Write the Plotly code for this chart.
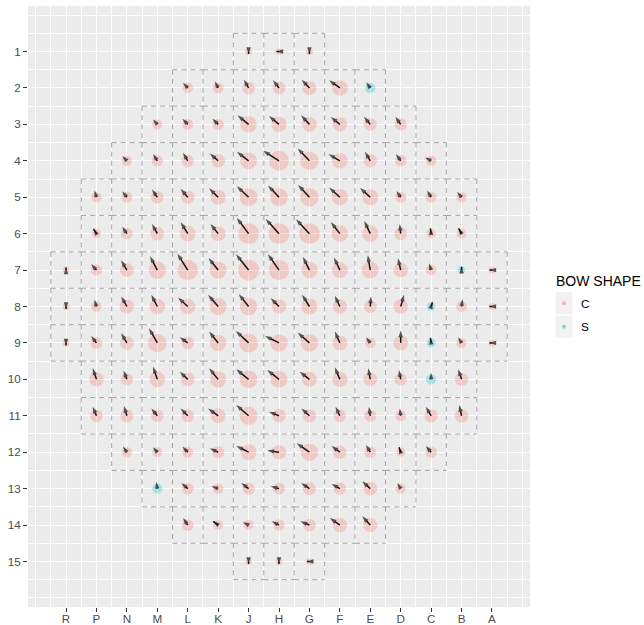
import math
import plotly.graph_objects as go

# ---------------- data ----------------
columns = ["R", "P", "N", "M", "L", "K", "J", "H", "G", "F", "E", "D", "C", "B", "A"]
rows = list(range(1, 16))
# first occupied column of each core row (rows 1..15)
row_first_col = ["J", "L", "M", "N", "P", "P", "R", "R", "R", "P", "P", "N", "M", "L", "J"]

# bow components per assembly (x: toward A positive, y: toward row 15 positive)
bow_x = [
    [0, -2.5, 0],
    [-4.7, -3.3, -4.7, -6.0, -7.7, -10.7, -4.0],
    [-4.3, -5.3, -5.7, -11.0, -10.0, -8.3, -9.0, -6.3, -5.3],
    [-4.7, -4.3, -4.7, -8.3, -11.7, -15.7, -11.7, -11.3, -5.3, -4.7, -6.0],
    [-2.0, -4.7, -5.3, -7.0, -9.0, -11.7, -11.0, -11.3, -10.7, -10.3, -4.3, -4.0, -4.3],
    [-3.0, -4.7, -5.3, -7.0, -7.7, -11.7, -13.3, -13.3, -9.0, -6.0, -1.0, -0.7, -3.0],
    [0, -5.3, -5.7, -7.3, -10.3, -9.5, -12.5, -11.0, -6.5, -5.8, -2.5, -2.7, -2.0, 0, -2.5],
    [0, -2.0, -5.7, -6.0, -9.7, -10.0, -9.7, -8.3, -7.3, -5.0, 0.7, 3.3, 1.3, 1.0, -2.5],
    [0, -5.3, -5.7, -8.3, -8.0, -9.0, -12.7, -14.0, -11.7, -5.0, -4.3, 0, -0.7, -3.3, -2.5],
    [-3.7, -3.3, -4.3, -8.0, -9.0, -12.3, -11.7, -9.7, -5.0, -2.0, -1.7, 0, -3.3],
    [-3.7, -3.0, -6.0, -7.0, -10.0, -12.3, -10.0, -8.0, -4.3, -1.3, -1.0, -5.3, -2.3],
    [-4.0, -4.3, -5.3, -8.3, -12.3, -11.7, -12.7, -8.3, -4.3, -1.7, -5.3],
    [-1.0, -6.3, -6.7, -7.3, -8.3, -8.3, -8.3, -8.0, -3.3],
    [-4.7, -5.0, -5.7, -7.3, -9.0, -10.0, -8.0],
    [0, 0, -2.5],
]
bow_y = [
    [2.5, 0, 2.5],
    [-5.3, -6.7, -8.3, -7.7, -8.3, -7.7, -5.7],
    [-5.0, -5.7, -5.7, -9.0, -8.3, -9.0, -7.3, -7.7, -7.7],
    [-4.7, -6.7, -8.0, -7.3, -9.0, -10.0, -12.3, -6.7, -9.0, -6.7, -3.3],
    [-6.7, -6.0, -7.7, -8.3, -9.0, -11.0, -11.7, -12.3, -9.7, -9.3, -6.3, -6.7, -5.3],
    [-4.7, -7.0, -9.7, -11.3, -9.7, -15.7, -14.7, -14.3, -11.7, -12.7, -9.7, -5.3, -5.3],
    [-2.5, -6.0, -9.7, -13.7, -16.3, -12.0, -15.8, -15.8, -13.0, -12.5, -14.7, -11.7, -6.7, -3.3, 0],
    [2.5, -6.7, -10.0, -11.7, -9.0, -11.7, -12.3, -8.3, -11.7, -10.7, -10.0, -11.7, -4.3, -7.3, 0],
    [2.5, -7.0, -9.7, -14.7, -5.7, -11.3, -12.0, -7.0, -10.3, -11.3, -5.7, -12.3, -5.0, -5.7, 0],
    [-11.0, -8.7, -12.7, -7.7, -11.0, -10.0, -9.3, -7.7, -12.0, -11.0, -9.3, -6.7, -10.0],
    [-9.0, -9.7, -7.3, -7.3, -7.3, -10.7, -4.0, -7.3, -9.0, -9.0, -7.3, -9.0, -10.7],
    [-5.7, -5.0, -5.7, -4.0, -6.3, -1.7, -9.0, -6.3, -7.3, -5.0, -6.3],
    [-6.7, -5.7, -2.3, -5.7, -2.3, -5.7, -4.7, -7.3, -5.7],
    [-7.0, -3.7, -2.7, -3.7, -3.7, -7.0, -8.7],
    [2.5, 2.5, 0],
]
# assemblies with S-shaped bow (column, row); all others are C-shaped
s_shape = [("E", 2), ("B", 7), ("C", 8), ("C", 9), ("C", 10), ("M", 13)]
shape_names = ["C", "S"]

# ---------------- scales ----------------
ARROW_SCALE_X = 1 / 30.4   # bow units -> column units
ARROW_SCALE_Y = 1 / 36.4   # bow units -> row units
PINK = "rgba(248,118,109,0.40)"
TEAL = "rgba(0,191,196,0.40)"
HEAD = 7.0

pts = {"C": {"x": [], "y": [], "s": []}, "S": {"x": [], "y": [], "s": []}}
edges = set()
ar_x, ar_y, ar_s = [], [], []

for ri, r in enumerate(rows):
    c0 = columns.index(row_first_col[ri]) + 1
    for k, (bx, by) in enumerate(zip(bow_x[ri], bow_y[ri])):
        xc = c0 + k
        letter = columns[xc - 1]
        # dashed assembly outline (unique unit edges)
        xl, xr, yt, yb = xc - 0.5, xc + 0.5, r - 0.5, r + 0.5
        edges.update({(xl, yt, xr, yt), (xl, yb, xr, yb), (xl, yt, xl, yb), (xr, yt, xr, yb)})
        mag = math.hypot(bx, by)
        shp = "S" if (letter, r) in s_shape else "C"
        pts[shp]["x"].append(xc)
        pts[shp]["y"].append(r)
        pts[shp]["s"].append(5 + 0.8 * mag)
        ar_x += [xc, xc + bx * ARROW_SCALE_X, None]
        ar_y += [r, r + by * ARROW_SCALE_Y, None]
        ar_s += [0, HEAD, 0]

box_x, box_y = [], []
for (x0, y0, x1, y1) in sorted(edges):
    box_x += [x0, x1, None]
    box_y += [y0, y1, None]

fig = go.Figure()
fig.add_trace(go.Scatter(
    x=box_x, y=box_y, mode="lines", hoverinfo="skip", showlegend=False,
    line=dict(color="#9a9a9a", width=0.9, dash="5px,4px"),
))
for name, col in zip(shape_names, [PINK, TEAL]):
    fig.add_trace(go.Scatter(
        x=pts[name]["x"], y=pts[name]["y"], mode="markers", name=name,
        showlegend=False, hoverinfo="skip",
        marker=dict(size=pts[name]["s"], color=col, line=dict(width=0)),
    ))
fig.add_trace(go.Scatter(
    x=ar_x, y=ar_y, mode="lines+markers", hoverinfo="skip", showlegend=False,
    connectgaps=False,
    line=dict(color="#141414", width=1.5),
    marker=dict(symbol="arrow", size=ar_s, color="#141414", angleref="previous",
                line=dict(width=0)),
))

# ---------------- manual ggplot-style legend ----------------
L, T, PW, PH = 28, 6, 502, 601


def px(xp):
    return (xp - L) / PW


def py(yp):
    return (T + PH - yp) / PH


shapes = []
annotations = [dict(x=px(554), y=py(281), xref="paper", yref="paper",
                    text="BOW SHAPE", showarrow=False, xanchor="left",
                    yanchor="middle", font=dict(size=14, color="#000000"))]
for i, (name, dot) in enumerate(zip(shape_names,
                                    ["rgba(248,118,109,0.5)", "rgba(0,191,196,0.5)"])):
    y0 = 292 + i * 23.5
    shapes.append(dict(type="rect", xref="paper", yref="paper",
                       x0=px(555.5), x1=px(572.5), y0=py(y0), y1=py(y0 + 22.5),
                       fillcolor="#F2F2F2", line=dict(width=0), layer="above"))
    yc = y0 + 11.25
    shapes.append(dict(type="circle", xref="paper", yref="paper",
                       x0=px(562), x1=px(566), y0=py(yc - 2), y1=py(yc + 2),
                       fillcolor=dot, line=dict(width=0), layer="above"))
    annotations.append(dict(x=px(579), y=py(yc), xref="paper", yref="paper",
                            text=name, showarrow=False, xanchor="left", yanchor="middle",
                            font=dict(size=11.7, color="#000000")))

axis_common = dict(
    showgrid=True, gridcolor="#FFFFFF", gridwidth=1.2, zeroline=False,
    automargin=False,
    ticks="outside", ticklen=4, tickwidth=1, tickcolor="#333333",
    tickfont=dict(size=11.7, color="#4D4D4D"), showline=False,
    minor=dict(tickmode="array", tickvals=[i * 0.5 for i in range(33)],
               showgrid=True, gridcolor="#FFFFFF", gridwidth=0.6, ticks=""),
)
fig.update_layout(
    width=644, height=625,
    margin=dict(l=L, r=644 - L - PW, t=T, b=625 - T - PH, pad=0),
    paper_bgcolor="#FFFFFF", plot_bgcolor="#EBEBEB",
    font=dict(family="Liberation Sans, Arial, sans-serif"),
    xaxis=dict(range=[-0.25, 16.25], tickmode="array", ticklabelstandoff=-3,
               tickvals=list(range(1, 16)), ticktext=columns, **axis_common),
    yaxis=dict(range=[16.25, -0.25], tickmode="array",
               tickvals=rows, ticktext=[str(r) for r in rows], **axis_common),
    annotations=annotations, shapes=shapes, showlegend=False,
)
fig.write_html("out.html", config={"displayModeBar": False},
               post_script="document.body.style.margin='0px';document.body.style.overflow='hidden';")
